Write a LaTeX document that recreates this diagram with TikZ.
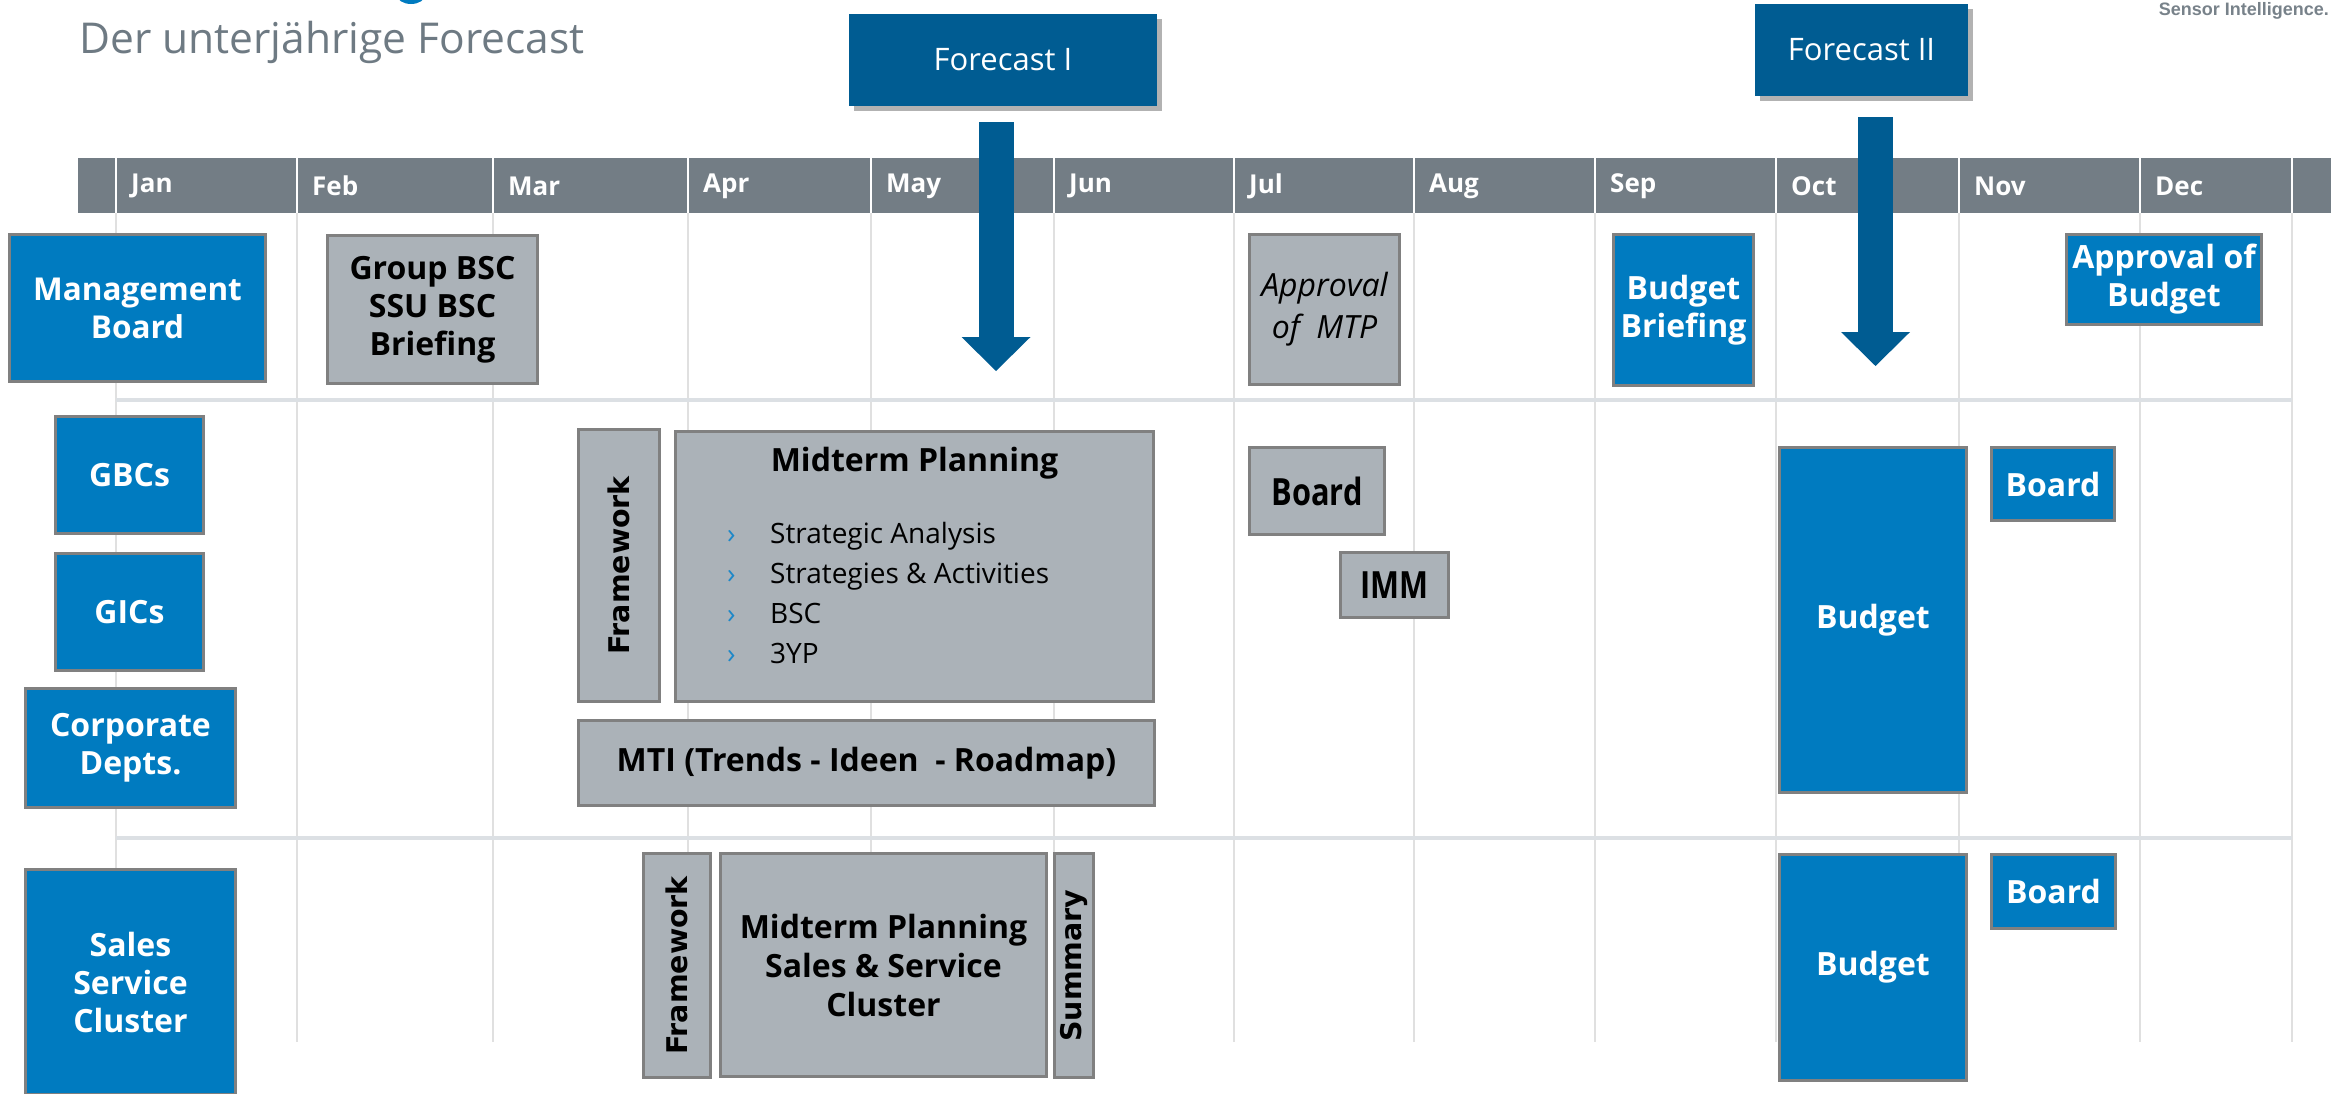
\documentclass[tikz,border=0pt]{standalone}
\usepackage{fontspec}
\setmainfont{Open Sans}
\newfontfamily\wideFont{DejaVu Sans}
\newfontfamily\condFont{Open Sans}[FakeStretch=0.82]
\newfontfamily\logoFont{Liberation Sans}
\usepackage{tikz}
\usetikzlibrary{arrows.meta}
\usetikzlibrary{shadows}
\definecolor{boxBlueColor}{RGB}{0,123,192}
\definecolor{forecastColor}{RGB}{0,92,146}
\definecolor{boxGrayColor}{RGB}{171,178,184}
\definecolor{borderColor}{RGB}{128,128,128}
\definecolor{barColor}{RGB}{115,125,133}
\definecolor{gridColor}{RGB}{224,224,224}
\definecolor{rowLineColor}{RGB}{220,224,228}
\definecolor{titleColor}{RGB}{110,122,131}
\definecolor{logoColor}{RGB}{120,130,138}
\definecolor{bulletColor}{RGB}{30,136,200}

\begin{document}
\begin{tikzpicture}[x=1pt, y=-1pt]

          \tikzstyle{blueBox} = [draw=borderColor, line width=3pt, fill=boxBlueColor, text=white, align=center, inner sep=0pt, font=\fontsize{32}{38}\selectfont\bfseries];
          \tikzstyle{grayBox} = [draw=borderColor, line width=3pt, fill=boxGrayColor, text=black, align=center, inner sep=0pt, font=\fontsize{32}{38}\selectfont\bfseries];
          \tikzstyle{sideBox} = [grayBox, font=\fontsize{28.5}{32}\selectfont\wideFont\bfseries];
          \tikzstyle{forecastBox} = [fill=forecastColor, text=white, inner sep=0pt, outer sep=0pt, font=\fontsize{31}{36}\selectfont, drop shadow={shadow xshift=5pt, shadow yshift=-5pt, fill=black, opacity=0.3}];
          \tikzstyle{forecastArrow} = [draw=forecastColor, line width=35pt, -{Triangle[width=69pt, length=34pt, line width=0pt]}];
          \tikzstyle{monthLabel} = [text=white, anchor=west, inner sep=0pt, font=\fontsize{26}{30}\selectfont\bfseries];
          \tikzstyle{gridLine} = [draw=gridColor, line width=1.5pt];
          \tikzstyle{rowLine} = [draw=rowLineColor, line width=4pt];
          \tikzstyle{itemText} = [anchor=base west, inner sep=0pt, font=\fontsize{28}{40}\selectfont];

          \useasboundingbox (0,0) rectangle (2331,1093);

          % title and logo
          \fill[boxBlueColor] (411,-5) ellipse (14 and 9);
          \node[anchor=base west, inner sep=0pt, text=titleColor, font=\fontsize{42.5}{50}\selectfont] (title) at (79,53) {Der unterjährige Forecast};
          \node[anchor=base east, inner sep=0pt, text=logoColor, font=\fontsize{18}{20}\selectfont\logoFont\bfseries] (logo) at (2329,15) {Sensor Intelligence.};

          % grid
          \foreach \x in {116,297,493,688,871,1054,1234,1414,1595,1776,1959,2140,2292}
            \draw[gridLine] (\x,213) -- (\x,1042);
          \draw[rowLine] (116,400) -- (2292,400);
          \draw[rowLine] (116,838) -- (2292,838);

          % month bar
          \fill[barColor] (78,158) rectangle (2331,213);
          \foreach \x in {116,297,493,688,871,1054,1234,1414,1595,1776,1959,2140,2292}
            \draw[white, line width=1.5pt] (\x,158) -- (\x,213);
          \foreach \m/\x in {Jan/116,Feb/297,Mar/493,Apr/688,May/871,Jun/1054,Jul/1234,Aug/1414,Sep/1595,Oct/1776,Nov/1959,Dec/2140}
            \node[monthLabel] (month\m) at (\x+15,186) {\m};

          % forecasts
          \node[forecastBox, minimum width=308pt, minimum height=92pt] (fcOne) at (1003,60) {Forecast I};
          \node[forecastBox, minimum width=213pt, minimum height=92pt] (fcTwo) at (1861.5,50) {Forecast II};
          \coordinate (fcOneTip) at (996,371);
          \coordinate (fcTwoTip) at (1875.5,366);
          \draw[forecastArrow, shorten <=16pt] (fcOne.south -| fcOneTip) -- (fcOneTip);
          \draw[forecastArrow, shorten <=21pt] (fcTwo.south -| fcTwoTip) -- (fcTwoTip);

          % management board row
          \node[blueBox, minimum width=256pt, minimum height=147pt, font=\fontsize{31.5}{38}\selectfont\bfseries] (mgmt) at (137.5,308) {Management\\Board};
          \node[grayBox, minimum width=210pt, minimum height=148pt] (groupBsc) at (432.5,309.5) {Group BSC\\SSU BSC\\Briefing};
          \node[grayBox, minimum width=150pt, minimum height=150pt, font=\fontsize{32}{42}\selectfont\itshape] (apprMtp) at (1324.5,309.5) {Approval\\of\ \ MTP};
          \node[blueBox, minimum width=140pt, minimum height=151pt] (budBrief) at (1683.5,310) {Budget\\Briefing};
          \node[blueBox, minimum width=195pt, minimum height=90pt] (apprBud) at (2164,279.5) {Approval of\\Budget};

          % corporate row
          \node[blueBox, minimum width=148pt, minimum height=117pt] (gbcs) at (129.5,475) {GBCs};
          \node[blueBox, minimum width=148pt, minimum height=117pt] (gics) at (129.5,612) {GICs};
          \node[blueBox, minimum width=210pt, minimum height=119pt] (corp) at (130.5,748) {Corporate\\Depts.};
          \node[sideBox, minimum width=81pt, minimum height=272pt] (frameOne) at (619,565.5) {\rotatebox{90}{Framework}};
          \node[grayBox, minimum width=478pt, minimum height=270pt] (midterm) at (914.5,566.5) {};
          \node[anchor=base, inner sep=0pt, font=\fontsize{32}{36}\selectfont\bfseries] (midtermTitle) at (914.5,471) {Midterm Planning};
          \foreach \txt [count=\i] in {Strategic Analysis, Strategies \& Activities, BSC, 3YP} {
            \node[itemText, text=bulletColor] (bullet\i) at (727,503+40*\i) {›};
            \node[itemText] (item\i) at (770,503+40*\i) {\txt};
          }
          \node[grayBox, minimum width=576pt, minimum height=85pt] (mti) at (866.5,763) {MTI (Trends - Ideen\ \ - Roadmap)};
          \node[grayBox, minimum width=135pt, minimum height=87pt, font=\fontsize{37.5}{40}\selectfont\condFont\bfseries] (boardJul) at (1317,491) {Board};
          \node[grayBox, minimum width=108pt, minimum height=65pt, font=\fontsize{37.5}{40}\selectfont\condFont\bfseries] (imm) at (1394.5,585) {IMM};
          \node[blueBox, minimum width=187pt, minimum height=345pt] (budgetOne) at (1873,620) {Budget};
          \node[blueBox, minimum width=123pt, minimum height=73pt] (boardOne) at (2053,484) {Board};

          % sales service cluster row
          \node[blueBox, minimum width=210pt, minimum height=225pt] (sales) at (130.5,982) {Sales\\Service\\Cluster};
          \node[sideBox, minimum width=67pt, minimum height=224pt] (frameTwo) at (677,965.5) {\rotatebox{90}{Framework}};
          \node[grayBox, minimum width=326pt, minimum height=223pt, font=\fontsize{32}{39}\selectfont\bfseries] (mpSales) at (883.5,965) {Midterm Planning\\Sales \& Service\\Cluster};
          \node[sideBox, minimum width=39pt, minimum height=224pt] (summary) at (1074,965.5) {\rotatebox{90}{Summary}};
          \node[blueBox, minimum width=187pt, minimum height=226pt] (budgetTwo) at (1873,967.5) {Budget};
          \node[blueBox, minimum width=124pt, minimum height=74pt] (boardTwo) at (2053.5,891.5) {Board};
        \end{tikzpicture}
\end{document}
